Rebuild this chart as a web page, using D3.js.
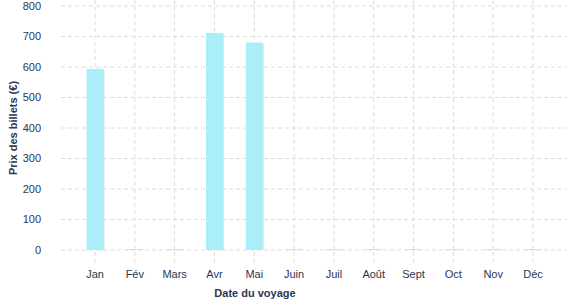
<!DOCTYPE html>
<meta charset="utf-8">
<style>
  body { margin: 0; background: #fff; }
  text { font-family: "Liberation Sans", Arial, sans-serif; fill: #2b3652; }
</style>
<body>
<svg width="577" height="300"></svg>
<script src="https://cdn.jsdelivr.net/npm/d3@7"></script>
<script>
    var months = ["Jan", "Fév", "Mars", "Avr", "Mai", "Juin", "Juil", "Août", "Sept", "Oct", "Nov", "Déc"];
    var prices = [594, 3, 3, 712, 680, 3, 3, 3, 3, 3, 3, 3];
    var yTicks = [0, 100, 200, 300, 400, 500, 600, 700, 800];

    var svg = d3.select("svg");

    // Set the scales
    var x = d3.scalePoint()
        .domain(months)
        .range([95, 533]);
    var y = d3.scaleLinear()
        .domain([0, 800])
        .range([250, 6]);

    var gridLeft = 61, gridRight = 567;

    // horizontal grid
    svg.append("g").selectAll("line")
        .data(yTicks)
        .enter().append("line")
        .attr("x1", gridLeft).attr("x2", gridRight)
        .attr("y1", function (d) { return y(d); })
        .attr("y2", function (d) { return y(d); })
        .attr("stroke", "#dcdcdc")
        .attr("stroke-dasharray", "4,3");

    // vertical grid
    svg.append("g").selectAll("line")
        .data(months)
        .enter().append("line")
        .attr("x1", function (d) { return x(d); })
        .attr("x2", function (d) { return x(d); })
        .attr("y1", 0).attr("y2", 263)
        .attr("stroke", "#dcdcdc")
        .attr("stroke-dasharray", "4,3");

    var barW = 17;

    // bar shadow
    svg.append("g").selectAll("rect")
        .data(prices)
        .enter().append("rect")
        .attr("x", function (d, i) { return x(months[i]) - barW / 2 + 1; })
        .attr("width", barW)
        .attr("y", function (d) { return y(d) + 1; })
        .attr("height", function (d) { return Math.max(0, y(0) - y(d) - 1); })
        .attr("fill", "#dde3ea");

    // bars
    svg.append("g").selectAll("rect")
        .data(prices)
        .enter().append("rect")
        .attr("x", function (d, i) { return x(months[i]) - barW / 2; })
        .attr("width", barW)
        .attr("y", function (d) { return y(d); })
        .attr("height", function (d) { return y(0) - y(d); })
        .attr("fill", "#aaeef9");

    // y tick labels
    svg.append("g").selectAll("text")
        .data(yTicks)
        .enter().append("text")
        .attr("x", 41)
        .attr("y", function (d) { return y(d); })
        .attr("dy", "0.35em")
        .attr("text-anchor", "end")
        .style("font-size", "11px")
        .text(function (d) { return d; });

    // x tick labels
    svg.append("g").selectAll("text")
        .data(months)
        .enter().append("text")
        .attr("x", function (d) { return x(d); })
        .attr("y", 278)
        .attr("text-anchor", "middle")
        .style("font-size", "11px")
        .text(function (d) { return d; });

    // axis titles
    svg.append("text")
        .attr("x", 255)
        .attr("y", 297)
        .attr("text-anchor", "middle")
        .style("font-size", "11px")
        .style("font-weight", "bold")
        .text("Date du voyage");

    svg.append("text")
        .attr("transform", "translate(17,128) rotate(-90)")
        .attr("text-anchor", "middle")
        .style("font-size", "11px")
        .style("font-weight", "bold")
        .text("Prix des billets (€)");
</script>
</body>
